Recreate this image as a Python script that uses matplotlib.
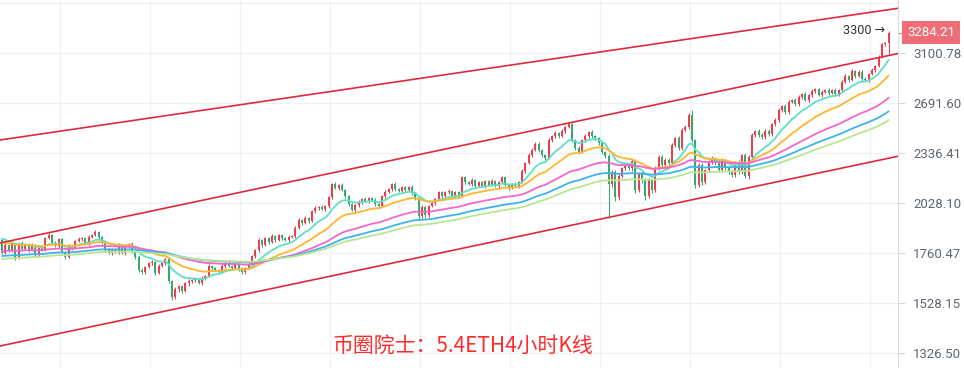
import numpy as np
import pandas as pd
import matplotlib
matplotlib.use("Agg")
import matplotlib.pyplot as plt
import matplotlib.transforms as mtransforms

# ---------------- data ----------------
# 4H closes before the visible window (only used to warm up the moving averages)
pre_closes = [1630, 1622, 1641, 1655, 1638, 1650, 1667, 1659, 1672, 1664,
              1678, 1690, 1683, 1701, 1694, 1680, 1672, 1688, 1676, 1669,
              1660, 1675, 1668, 1682, 1671, 1658, 1664, 1679, 1686, 1672,
              1661, 1648, 1640, 1652, 1636, 1629, 1641, 1655, 1647, 1638,
              1644, 1659, 1651, 1666, 1658, 1645, 1653, 1667, 1662, 1671,
              1684, 1702, 1695, 1713, 1726, 1718, 1735, 1729, 1744, 1738,
              1752, 1767, 1760, 1778, 1791, 1783, 1799, 1810, 1802, 1821,
              1812, 1798, 1784, 1771, 1786, 1779, 1795, 1788, 1803, 1794,
              1838, 1856, 1871, 1864, 1882, 1876, 1890, 1868, 1825]

# visible 4H candles (close)
closes = [1760, 1801, 1775, 1806, 1736, 1811, 1780, 1806, 1775, 1801,
          1750, 1785, 1775, 1836, 1852, 1811, 1796, 1831, 1765, 1740,
          1796, 1785, 1821, 1831, 1836, 1811, 1842, 1852, 1868, 1842,
          1811, 1775, 1760, 1780, 1765, 1801, 1760, 1790, 1806, 1765,
          1740, 1678, 1668, 1692, 1711, 1716, 1664, 1697, 1711, 1731,
          1626, 1554, 1590, 1603, 1581, 1617, 1626, 1631, 1635, 1617,
          1640, 1649, 1697, 1687, 1678, 1668, 1697, 1711, 1697, 1687,
          1706, 1682, 1668, 1687, 1706, 1745, 1775, 1826, 1801, 1836,
          1816, 1847, 1826, 1852, 1836, 1826, 1842, 1847, 1890, 1933,
          1917, 1944, 1928, 1982, 1999, 2005, 1993, 2010, 2062, 2140,
          2116, 2134, 2104, 2068, 2022, 1988, 2016, 2034, 2051, 2039,
          2057, 2045, 2022, 2010, 2068, 2092, 2110, 2140, 2110, 2098,
          2122, 2104, 2122, 2086, 2057, 1954, 2005, 1960, 2010, 2028,
          2051, 2092, 2068, 2092, 2098, 2068, 2092, 2068, 2183, 2152,
          2140, 2164, 2128, 2152, 2128, 2158, 2134, 2158, 2128, 2152,
          2183, 2134, 2116, 2140, 2128, 2152, 2220, 2271, 2323, 2356,
          2397, 2356, 2323, 2303, 2424, 2451, 2472, 2451, 2487, 2515,
          2536, 2424, 2370, 2343, 2424, 2451, 2480, 2451, 2438, 2404,
          2343, 2316, 2140, 2214, 2062, 2189, 2239, 2258, 2239, 2284,
          2104, 2208, 2164, 2068, 2164, 2104, 2239, 2310, 2258, 2290,
          2271, 2390, 2438, 2370, 2494, 2515, 2602, 2424, 2134, 2258,
          2152, 2227, 2277, 2303, 2271, 2227, 2290, 2239, 2214, 2195,
          2277, 2214, 2323, 2189, 2310, 2458, 2487, 2458, 2445, 2487,
          2465, 2536, 2565, 2639, 2668, 2624, 2699, 2715, 2684, 2738,
          2761, 2715, 2753, 2784, 2800, 2753, 2777, 2792, 2769, 2792,
          2761, 2792, 2857, 2906, 2873, 2947, 2906, 2939, 2881, 2873,
          2922, 2955, 2989, 3066, 3180, 3190, 3284.21]

# wick lengths above / below the candle body (price units)
upper_wick = [6, 8, 5, 9, 4, 7, 10, 5, 6, 8,
              5, 9, 7, 6, 10, 5, 8, 6, 7, 4,
              8, 6, 5, 9, 7, 6, 8, 5, 9, 6,
              7, 5, 8, 6, 4, 9, 6, 7, 5, 8,
              6, 10, 8, 5, 7, 9, 6, 8, 5, 7,
              9, 6, 8, 5, 7, 6, 9, 5, 7, 6,
              8, 5, 9, 6, 7, 5, 8, 6, 9, 5,
              7, 6, 8, 5, 9, 7, 6, 10, 7, 8,
              6, 9, 7, 5, 8, 6, 9, 7, 8, 10,
              7, 9, 6, 8, 10, 7, 9, 6, 8, 6,
              10, 8, 12, 7, 9, 6, 8, 10, 7, 9,
              6, 8, 10, 7, 9, 11, 6, 8, 10, 7,
              9, 6, 8, 10, 7, 12, 9, 8, 6, 10,
              8, 7, 9, 6, 10, 8, 7, 6, 6, 9,
              7, 10, 8, 6, 9, 7, 8, 10, 6, 9,
              8, 7, 9, 6, 10, 8, 12, 9, 11, 14,
              10, 12, 8, 9, 13, 10, 11, 9, 12, 10,
              15, 11, 9, 12, 10, 13, 9, 11, 8, 10,
              12, 9, 14, 11, 10, 13, 9, 12, 10, 14,
              11, 9, 13, 10, 12, 9, 14, 11, 10, 12,
              16, 12, 10, 14, 11, 13, 12, 37, 10, 14,
              12, 9, 13, 11, 10, 12, 14, 9, 11, 13,
              10, 12, 9, 14, 11, 13, 10, 12, 15, 11,
              13, 10, 14, 12, 11, 15, 13, 10, 12, 14,
              11, 13, 10, 15, 12, 11, 14, 10, 13, 12,
              14, 11, 13, 12, 10, 15, 11, 13, 12, 14,
              12, 15, 11, 13, 14, 12, 16]
lower_wick = [7, 5, 9, 12, 10, 6, 8, 5, 9, 6,
              8, 10, 6, 7, 5, 9, 6, 8, 7, 9,
              6, 8, 7, 5, 9, 6, 8, 7, 5, 9,
              6, 8, 7, 9, 5, 8, 6, 9, 7, 6,
              8, 9, 7, 10, 6, 8, 9, 7, 6, 8,
              10, 13, 7, 12, 8, 6, 14, 7, 9, 6,
              8, 7, 6, 9, 7, 8, 6, 9, 7, 8,
              6, 9, 7, 8, 6, 9, 7, 8, 10, 7,
              9, 6, 8, 7, 10, 6, 9, 7, 8, 6,
              9, 7, 10, 6, 8, 9, 7, 10, 8, 9,
              7, 10, 8, 9, 11, 7, 9, 8, 10, 7,
              9, 8, 10, 12, 7, 9, 8, 10, 9, 7,
              8, 10, 7, 9, 11, 21, 8, 15, 9, 7,
              10, 8, 9, 7, 10, 8, 9, 11, 7, 9,
              8, 10, 7, 9, 8, 10, 7, 9, 8, 10,
              7, 9, 10, 8, 9, 11, 8, 10, 9, 12,
              9, 11, 10, 13, 9, 12, 10, 11, 9, 12,
              10, 12, 14, 11, 9, 13, 10, 12, 11, 14,
              12, 15, 194, 18, 22, 14, 12, 15, 11, 16,
              18, 13, 15, 20, 12, 16, 11, 14, 12, 15,
              13, 11, 15, 12, 14, 10, 13, 16, 18, 14,
              16, 12, 14, 11, 15, 13, 12, 16, 14, 11,
              15, 12, 14, 11, 16, 13, 11, 14, 12, 15,
              12, 14, 11, 13, 15, 12, 14, 11, 13, 12,
              14, 11, 13, 12, 15, 11, 14, 12, 13, 11,
              13, 12, 14, 11, 13, 12, 15, 11, 14, 12,
              13, 11, 14, 12, 13, 15, 100]

# exponential moving averages (span) and their colours
ema_spans = [12, 26, 55, 80, 100]
ema_colors = ["#5fe0c4", "#ffb62e", "#f466cc", "#3fb2ee", "#b9e690"]

# channel lines: price at left edge / right edge of the window
channel_left = [2424, 1811, 1353]
channel_right = [3519, 3096, 2315]

price_ticks = [1326.50, 1528.15, 1760.47, 2028.10, 2336.41, 2691.60, 3100.78]
extra_grid_price = 3572.2
last_price = 3284.21
high_mark = 3300
title = "币圈院士：5.4ETH4小时K线"

# ---------------- figure ----------------
plt.rcParams["font.family"] = ["Roboto", "DejaVu Sans"]
W, H, DPI = 964, 368, 100
fig = plt.figure(figsize=(W / DPI, H / DPI), dpi=DPI)
fig.patch.set_facecolor("white")
ax = fig.add_axes([0, 0, 898 / W, 1])
ax.set_facecolor("white")

n = len(closes)
x = np.arange(n)
c = np.array(closes, dtype=float)
o = np.concatenate([[pre_closes[-1]], c[:-1]])
bt = np.maximum(o, c)
bb = np.minimum(o, c)
hi = bt + np.array(upper_wick)
lo = bb - np.array(lower_wick)
bt = np.maximum(bt, bb * 1.0012)
up = c >= o
red, green = "#e8404f", "#35a96f"
cols = np.where(up, red, green)

ax.set_yscale("log")
x0, x1 = -0.6, 268.8
ax.set_xlim(x0, x1)
ax.set_ylim(1271.3, 3602.6)

# grid
ax.set_xticks(np.arange(17.4, x1, 27))
ax.set_yticks(price_ticks)
ax.set_yticklabels([f"{v:.2f}" for v in price_ticks])
ax.yaxis.set_minor_locator(matplotlib.ticker.NullLocator())
ax.grid(True, color="#eef1f6", lw=1.0, zorder=0)
ax.axhline(extra_grid_price, color="#eef1f6", lw=1.0, zorder=0)
ax.tick_params(axis="x", length=0, labelbottom=False)
ax.yaxis.tick_right()
ax.tick_params(axis="y", direction="out", length=5, width=0.8, color="#d3d7de",
               pad=6, labelsize=9.5, labelcolor="#5e6570")
for s in ["top", "left", "bottom"]:
    ax.spines[s].set_visible(False)
ax.spines["right"].set_color("#d8dce3")
ax.spines["right"].set_linewidth(0.8)

# candles
ax.vlines(x, lo, hi, colors=cols, lw=0.75, zorder=2)
ax.vlines(x, bb, bt, colors=cols, lw=1.45, zorder=2)

# moving averages
allc = pd.Series(list(pre_closes) + list(closes), dtype=float)
npre = len(pre_closes)
for p, col in zip(ema_spans, ema_colors):
    ma = allc.ewm(span=p, adjust=False).mean().values[npre:]
    ax.plot(x, ma, color=col, lw=1.3, zorder=3, solid_capstyle="round")

# channel lines
for l, r in zip(channel_left, channel_right):
    ax.plot([x0, x1], [l, r], color="#dc2a3c", lw=1.2, zorder=4)

# last price label
trans = mtransforms.blended_transform_factory(ax.transAxes, ax.transData)
ax.text(1.0 + 9 / 898, last_price, f"{last_price:.2f}", transform=trans,
        ha="left", va="center", color="white", fontsize=9.5, clip_on=False,
        bbox=dict(boxstyle="square,pad=0.4", fc="#ee6d76", ec="none"), zorder=6)
ax.plot([1.0, 1.0 + 5 / 898], [last_price, last_price], transform=trans,
        color="#ee6d76", lw=0.8, clip_on=False)

# high annotation
ax.annotate("3300 →", xy=(n - 1, high_mark), xytext=(-2.5, 0),
            textcoords="offset points", ha="right", va="center",
            fontsize=9, color="#333333", zorder=6)

# title
ax.text(463 / 898, 1 - 346 / 368, title, transform=ax.transAxes,
        ha="center", va="center", fontsize=15, color="#ff2b2b",
        family=["Noto Sans CJK SC", "DejaVu Sans"], zorder=7)

fig.savefig("out.png", dpi=DPI, facecolor="white")
